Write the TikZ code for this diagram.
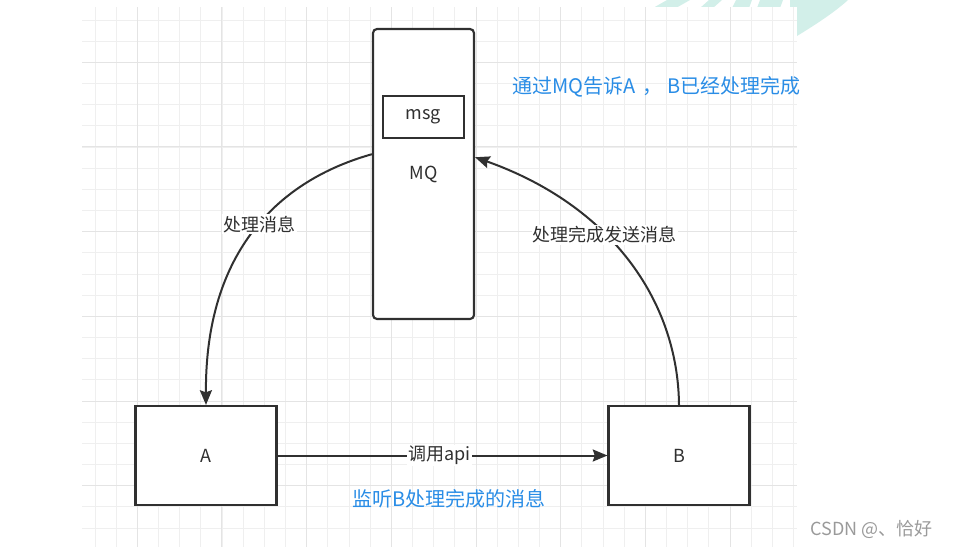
\documentclass[tikz,border=0pt]{standalone}
\usepackage{fontspec}
\setmainfont{Noto Sans CJK SC}
\usetikzlibrary{arrows.meta}
\definecolor{lineGray}{HTML}{303030}
\definecolor{noteBlue}{HTML}{2A8DE6}
\definecolor{gridMinor}{HTML}{EFEFEF}
\definecolor{gridMajor}{HTML}{E4E4E4}
\definecolor{markTeal}{HTML}{D2EFE9}
\definecolor{markGray}{HTML}{9A9A9A}
\tikzset{
	box/.style={draw=lineGray, line width=1.6pt, fill=white, text=lineGray, inner sep=0pt, font=\fontsize{13.5}{16}\selectfont},
	flow/.style={draw=lineGray, line width=1.5pt, -{Stealth[length=11pt, width=9pt, inset=1.5pt]}},
	flowlabel/.style={fill=white, text=lineGray, inner sep=1pt, font=\fontsize{13.5}{16}\selectfont},
	note/.style={text=noteBlue, inner sep=0pt, font=\fontsize{15}{18}\selectfont},
	minorline/.style={draw=gridMinor, line width=0.75pt},
	majorline/.style={draw=gridMajor, line width=0.75pt}
}

\begin{document}
\begin{tikzpicture}[x=0.75pt, y=-0.75pt]
			%%%%% START %%%%%
			\useasboundingbox (0, 0) rectangle (956, 547);
			
			% watermark behind the grid
			\fill[markTeal] (790, 0) -- (848, 0) .. controls (835, 12) and (815, 25) .. (797, 36) -- (790, 36) -- cycle;
			\fill[markTeal] (653, 8) -- (667, 0) -- (690, 0) -- (676, 8) -- cycle;
			\fill[markTeal] (700, 8) -- (709, 0) -- (722, 0) -- (713, 8) -- cycle;
			\fill[markTeal] (732, 8) -- (736, 0) -- (752, 0) -- (749, 8) -- cycle;
			\fill[markTeal] (757, 8) -- (760, 0) -- (783, 0) -- (780, 8) -- cycle;
			
			% grid
			\fill[white] (82, 7) rectangle (797, 547);
			\foreach \i in {0,...,33} {
				\draw[minorline] ({95+21.17*\i}, 7) -- ({95+21.17*\i}, 547);
			}
			\foreach \j in {0,...,24} {
				\draw[minorline] (82, {20+21.17*\j}) -- (797, {20+21.17*\j});
			}
			\foreach \i in {0,...,7} {
				\draw[majorline] ({137.3+84.68*\i}, 7) -- ({137.3+84.68*\i}, 547);
			}
			\foreach \j in {0,...,5} {
				\draw[majorline] (82, {62.3+84.68*\j}) -- (797, {62.3+84.68*\j});
			}
			
			% boxes
			\node[box, rounded corners=3pt, minimum width=75.75pt, minimum height=217.5pt] (mq) at (423.5, 174) {MQ};
			\node[box, minimum width=60.75pt, minimum height=31.5pt] (msg) at (423.5, 117) {msg};
			\node[box, minimum width=105.75pt, minimum height=74.25pt] (a) at (206, 455.5) {A};
			\node[box, minimum width=105.75pt, minimum height=74.25pt] (b) at (679, 455.5) {B};
			
			% arrows
			\draw[flow] (mq.159) .. controls (280, 180) and (205, 250) .. (a.north) node[flowlabel, pos=0.47] {处理消息};
			\draw[flow] (b.north) .. controls (678, 300) and (610, 205) .. (mq.18) node[flowlabel, pos=0.6] {处理完成发送消息};
			\draw[flow] (a.east) -- (b.west) node[flowlabel, pos=0.49] {调用api};
			
			% notes
			\node[note, anchor=west] (tellnote) at (512, 87) {通过MQ告诉A\hspace{5pt}，\hspace{4pt}B已经处理完成};
			\node[note] (listennote) at (449, 499) {监听B处理完成的消息};
			\node[text=markGray, inner sep=0pt, anchor=west, font=\fontsize{13.5}{16}\selectfont] (mark) at (810, 529) {CSDN @、恰好};
			
			%%%%% END %%%%%
\end{tikzpicture}
\end{document}
